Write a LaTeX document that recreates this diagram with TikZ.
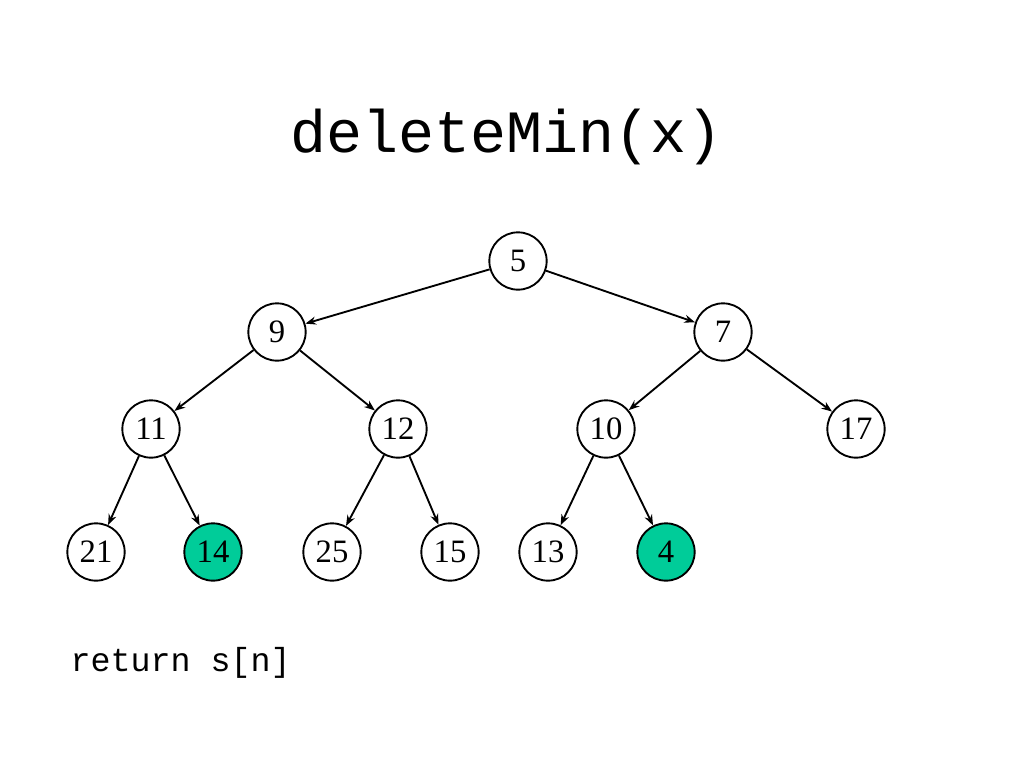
\documentclass[tikz,border=0pt]{standalone}
\usepackage{fontspec}
\setmainfont{Liberation Serif}
\setmonofont{Liberation Mono}
\usetikzlibrary{arrows.meta}
\definecolor{teal1}{HTML}{00CC99}
\begin{document}
\begin{tikzpicture}[x=0.75pt,y=-0.75pt,
  hn/.style={circle,draw=black,line width=1.4pt,minimum size=43pt,inner sep=0pt,fill=white,font=\fontsize{24.5}{28}\selectfont},
  hl/.style={hn,fill=teal1},
  edge/.style={line width=1.4pt,-{Stealth[length=8pt,width=6pt]}}]
\useasboundingbox (0,0) rectangle (1024,768);
\node[font=\ttfamily\fontsize{45}{54}\selectfont] (title) at (507,137) {deleteMin(x)};
\node[hn] (n5) at (518,261) {5};
\node[hn] (n9) at (277,332) {9};
\node[hn] (n7) at (723,332) {7};
\node[hn] (n11) at (151,429) {11};
\node[hn] (n12) at (398,429) {12};
\node[hn] (n10) at (606,429) {10};
\node[hn] (n17) at (856,429) {17};
\node[hn] (n21) at (96,552) {21};
\node[hl] (n14) at (213,552) {14};
\node[hn] (n25) at (332,552) {25};
\node[hn] (n15) at (450,552) {15};
\node[hn] (n13) at (548,552) {13};
\node[hl] (n4) at (666,552) {4};
\draw[edge] (n5) -- (n9);
\draw[edge] (n5) -- (n7);
\draw[edge] (n9) -- (n11);
\draw[edge] (n9) -- (n12);
\draw[edge] (n7) -- (n10);
\draw[edge] (n7) -- (n17);
\draw[edge] (n11) -- (n21);
\draw[edge] (n11) -- (n14);
\draw[edge] (n12) -- (n25);
\draw[edge] (n12) -- (n15);
\draw[edge] (n10) -- (n13);
\draw[edge] (n10) -- (n4);
\node[font=\ttfamily\fontsize{25}{30}\selectfont,anchor=west] (ret) at (66,663) {return s[n]};
\end{tikzpicture}
\end{document}
